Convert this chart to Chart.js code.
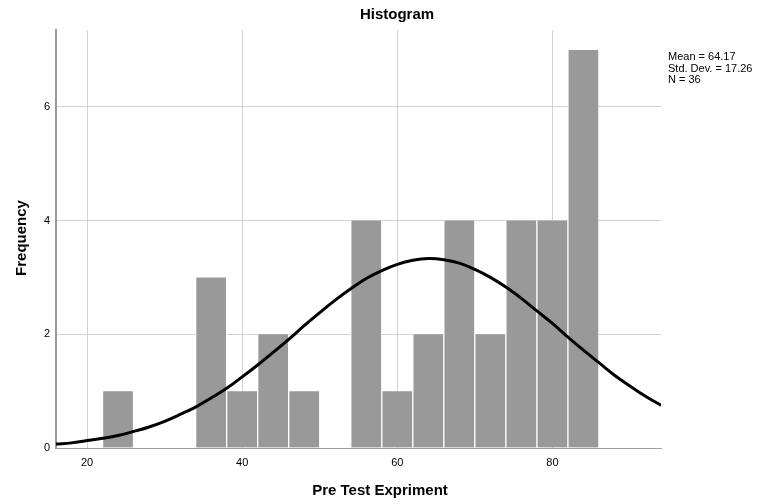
<!DOCTYPE html>
<html>
<head>
<meta charset="utf-8">
<script src="https://cdn.jsdelivr.net/npm/chart.js"></script>
<style>
  html, body { margin: 0; padding: 0; background: #fff; }
  #wrap { width: 757px; height: 504px; position: relative; }
</style>
</head>
<body>
<div id="wrap"><canvas id="c"></canvas></div>
<script>
// bin centres (bin width 4) and counts
const binCenters = [24, 36, 40, 44, 48, 56, 60, 64, 68, 72, 76, 80, 84];
const binCounts = [1, 3, 1, 2, 1, 4, 1, 2, 4, 2, 4, 4, 7];

// normal curve
const curveX = [16, 18, 20, 22, 24, 26, 28, 30, 32, 34, 36, 38, 40, 42, 44, 46, 48, 50, 52, 54, 56, 58, 60,
  62, 64, 66, 68, 70, 72, 74, 76, 78, 80, 82, 84, 86, 88, 90, 92, 94];
const curveY = [0.07, 0.09, 0.13, 0.17, 0.22, 0.29, 0.37, 0.47, 0.59, 0.72, 0.88, 1.05, 1.25, 1.46, 1.68, 1.91, 2.15, 2.38, 2.60, 2.80, 2.98, 3.12, 3.23,
  3.30, 3.33, 3.31, 3.25, 3.14, 3.00, 2.83, 2.63, 2.41, 2.19, 1.95, 1.72, 1.50, 1.28, 1.09, 0.91, 0.75];

const xTicks = [20, 40, 60, 80];
const yTicks = [0, 2, 4, 6];
const statsLines = ["Mean = 64.17", "Std. Dev. = 17.26", "N = 36"];

const FONT = "'Liberation Sans', Arial, sans-serif";

const textPlugin = {
  id: "texts",
  afterDraw(chart) {
    const ctx = chart.ctx;
    ctx.save();
    ctx.fillStyle = "#000";
    ctx.textBaseline = "middle";
    ctx.textAlign = "center";
    ctx.font = "bold 15px " + FONT;
    ctx.fillText("Histogram", 397, 15);
    ctx.fillText("Pre Test Expriment", 380, 491);
    ctx.save();
    ctx.translate(22, 238);
    ctx.rotate(-Math.PI / 2);
    ctx.fillText("Frequency", 0, 0);
    ctx.restore();
    ctx.textAlign = "left";
    ctx.font = "11px " + FONT;
    statsLines.forEach((s, i) => ctx.fillText(s, 668, 57 + i * 11.5));
    ctx.restore();
  }
};

new Chart(document.getElementById("c"), {
  data: {
    datasets: [
      {
        type: "line",
        data: curveX.map((x, i) => ({ x: x, y: curveY[i] })),
        borderColor: "#000",
        borderWidth: 3,
        pointRadius: 0,
        tension: 0.4,
        order: 0
      },
      {
        type: "bar",
        data: binCenters.map((x, i) => ({ x: x, y: binCounts[i] })),
        backgroundColor: "#999999",
        borderColor: "#ffffff",
        borderWidth: { left: 1, right: 1, top: 0, bottom: 0 },
        borderSkipped: false,
        barPercentage: 1,
        categoryPercentage: 1,
        order: 1
      }
    ]
  },
  options: {
    responsive: true,
    maintainAspectRatio: false,
    animation: false,
    layout: { padding: { left: 0, top: 30, right: 96, bottom: 0 } },
    plugins: { legend: { display: false }, tooltip: { enabled: false }, title: { display: false } },
    scales: {
      x: {
        type: "linear",
        min: 16,
        max: 94,
        offset: false,
        afterBuildTicks: s => { s.ticks = xTicks.map(v => ({ value: v })); },
        afterFit: s => { s.height = 56; },
        grid: { color: "#d2d2d2", lineWidth: 1, drawTicks: false, offset: false },
        border: { color: "#a0a0a0", width: 1 },
        ticks: { color: "#000", font: { family: FONT, size: 11 }, padding: 8, maxRotation: 0 }
      },
      y: {
        min: 0,
        max: 7.35,
        afterBuildTicks: s => { s.ticks = yTicks.map(v => ({ value: v })); },
        afterFit: s => { s.width = 56; },
        grid: { color: "#d2d2d2", lineWidth: 1, drawTicks: false },
        border: { color: "#9a9a9a", width: 2 },
        ticks: { color: "#000", font: { family: FONT, size: 11 }, padding: 6 }
      }
    }
  },
  plugins: [textPlugin]
});
</script>
</body>
</html>
